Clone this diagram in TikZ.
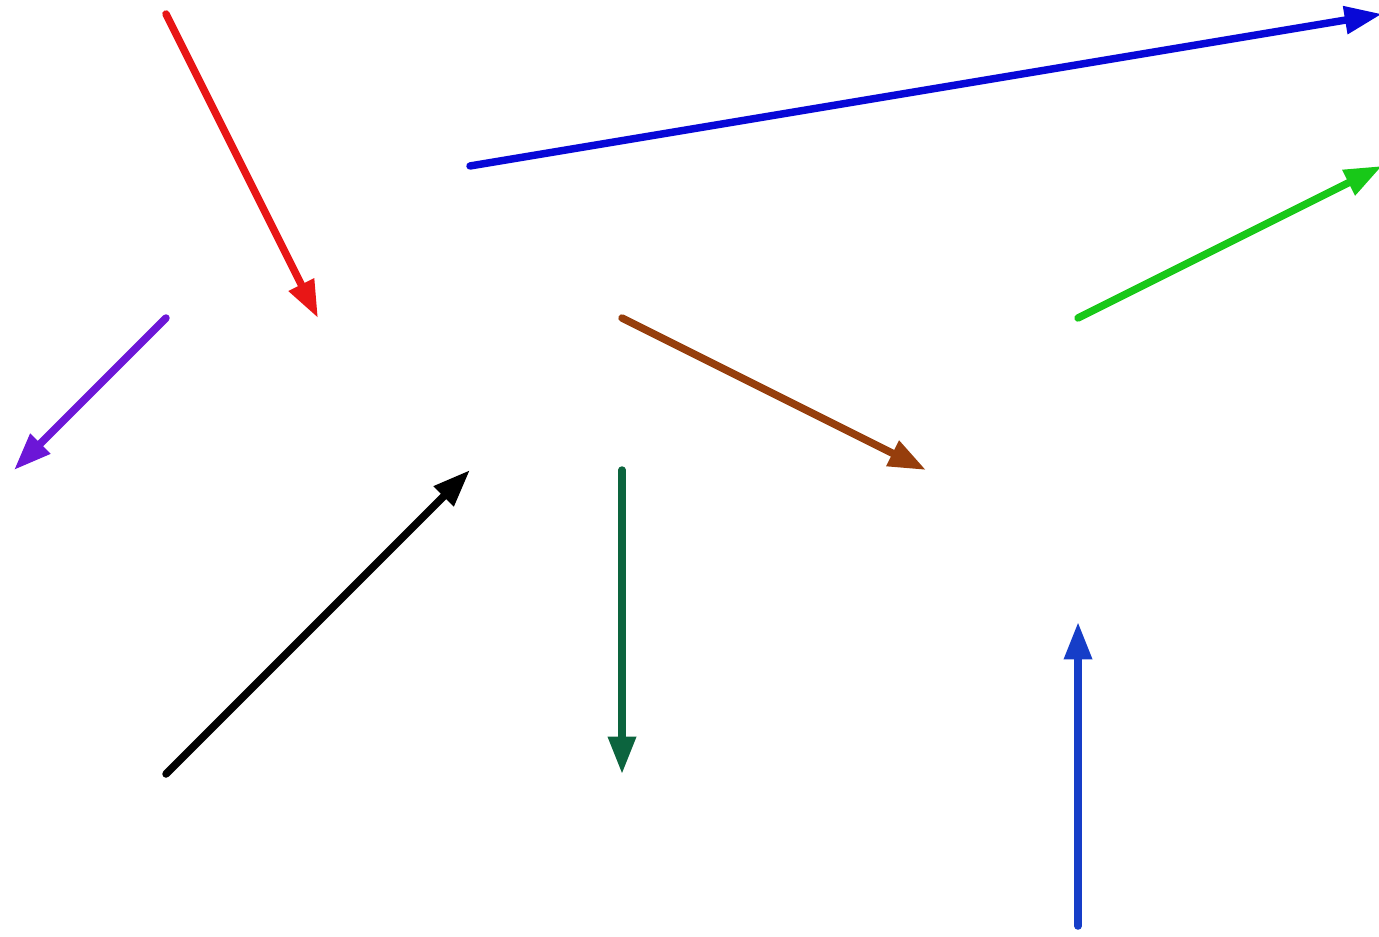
\documentclass[tikz,border=0pt]{standalone}
\usepackage{tikz}
\usetikzlibrary{arrows.meta}

\definecolor{vred}{RGB}{232,22,22}
\definecolor{vblue}{RGB}{8,8,215}
\definecolor{vgreen}{RGB}{24,200,24}
\definecolor{vpurple}{RGB}{108,22,215}
\definecolor{vbrown}{RGB}{150,62,12}
\definecolor{vdkgreen}{RGB}{12,100,62}
\definecolor{vsky}{RGB}{22,62,200}

\begin{document}
\begin{tikzpicture}[vec/.style={line width=1.4pt,line cap=round,-{Triangle[length=7pt,width=5pt]}}]
\useasboundingbox (-0.092,-0.066) rectangle (8.98,6.092);

\coordinate (r0) at (1,6); \coordinate (r1) at (2,4);
\coordinate (b0) at (3,5); \coordinate (b1) at (9,6);
\coordinate (g0) at (7,4); \coordinate (g1) at (9,5);
\coordinate (p0) at (1,4); \coordinate (p1) at (0,3);
\coordinate (w0) at (4,4); \coordinate (w1) at (6,3);
\coordinate (k0) at (1,1); \coordinate (k1) at (3,3);
\coordinate (d0) at (4,3); \coordinate (d1) at (4,1);
\coordinate (s0) at (7,0); \coordinate (s1) at (7,2);

\draw[vec,vred] (r0) -- (r1);
\draw[vec,vblue] (b0) -- (b1);
\draw[vec,vgreen] (g0) -- (g1);
\draw[vec,vpurple] (p0) -- (p1);
\draw[vec,vbrown] (w0) -- (w1);
\draw[vec,black] (k0) -- (k1);
\draw[vec,vdkgreen] (d0) -- (d1);
\draw[vec,vsky] (s0) -- (s1);
\end{tikzpicture}
\end{document}
